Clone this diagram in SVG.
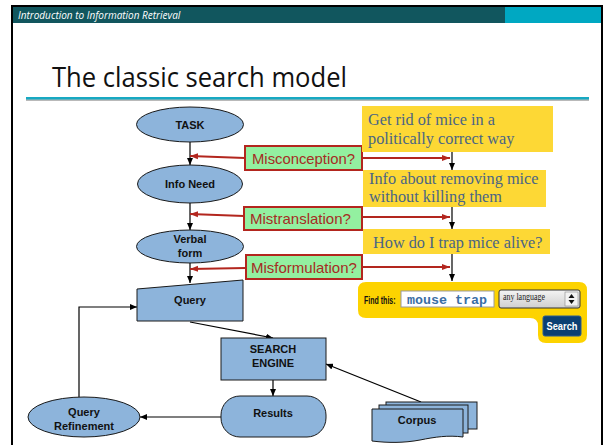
<svg xmlns="http://www.w3.org/2000/svg" width="604" height="445" viewBox="0 0 604 445">
<defs>
<marker id="ab" markerWidth="8" markerHeight="6" refX="7" refY="3" orient="auto" markerUnits="userSpaceOnUse"><path d="M0,0 L7,3 L0,6 Z" fill="#000"/></marker>
<marker id="ar" markerWidth="9" markerHeight="7" refX="8" refY="3.5" orient="auto" markerUnits="userSpaceOnUse"><path d="M0,0.5 L8,3.5 L0,6.5 Z" fill="#b3261e"/></marker>
<linearGradient id="sel" x1="0" y1="0" x2="0" y2="1"><stop offset="0" stop-color="#f4f4f4"/><stop offset="1" stop-color="#cfcfcf"/></linearGradient>
</defs>
<style>
.node{fill:#8db4db;stroke:#1a1a1a;stroke-width:1}
.nt{font-family:"Liberation Sans",Arial,sans-serif;font-weight:bold;font-size:11px;fill:#111;text-anchor:middle}
.err{fill:#93f0a0;stroke:#b3261e;stroke-width:2}
.et{font-family:"Liberation Sans",Arial,sans-serif;font-size:15px;fill:#a62c24}
.yel{fill:#fdd835}
.yt{font-family:"Liberation Serif","Times New Roman",serif;font-size:16.3px;fill:#4a6585}
.conn{stroke:#000;stroke-width:1.2;fill:none}
.red{stroke:#b3261e;stroke-width:2;fill:none}
</style>
<rect x="0" y="0" width="604" height="445" fill="#fff"/>
<rect x="12" y="6" width="590" height="450" fill="#fff" stroke="#000" stroke-width="2"/>
<rect x="13" y="7" width="492" height="16" fill="#11565e"/>
<rect x="505" y="7" width="96" height="16" fill="#00a8c2"/>
<text x="18" y="19" font-family="'Open Sans','Liberation Sans',sans-serif" font-style="italic" font-size="10" fill="#fff">Introduction to Information Retrieval</text>
<text x="52" y="87" font-family="'Open Sans','Liberation Sans',sans-serif" font-size="28" fill="#111" textLength="295" lengthAdjust="spacingAndGlyphs">The classic search model</text>
<rect x="26" y="99" width="563" height="2" fill="#b9b9b9"/>
<rect x="26" y="97" width="563" height="2.5" fill="#17a9c2"/>

<g id="connectors">
<line class="conn" x1="190" y1="142" x2="190" y2="165" marker-end="url(#ab)"/>
<line class="conn" x1="190" y1="203" x2="190" y2="230" marker-end="url(#ab)"/>
<line class="conn" x1="190" y1="263" x2="190" y2="283" marker-end="url(#ab)"/>
<line class="conn" x1="452" y1="152" x2="452" y2="170" marker-end="url(#ab)"/>
<line class="conn" x1="452" y1="207" x2="452" y2="229" marker-end="url(#ab)"/>
<line class="conn" x1="452" y1="254" x2="452" y2="281" marker-end="url(#ab)"/>
<line class="red" x1="245" y1="158" x2="190" y2="156" marker-end="url(#ar)"/>
<line class="red" x1="362" y1="158" x2="450" y2="158" marker-end="url(#ar)"/>
<line class="red" x1="244" y1="216" x2="190" y2="214" marker-end="url(#ar)"/>
<line class="red" x1="362" y1="217" x2="450" y2="217" marker-end="url(#ar)"/>
<line class="red" x1="246" y1="268" x2="190" y2="269" marker-end="url(#ar)"/>
<line class="red" x1="362" y1="267" x2="450" y2="267" marker-end="url(#ar)"/>
<line class="conn" x1="190" y1="322" x2="273" y2="338" marker-end="url(#ab)"/>
<line class="conn" x1="273" y1="380" x2="273" y2="396" marker-end="url(#ab)"/>
<line class="conn" x1="221" y1="417" x2="140" y2="417" marker-end="url(#ab)"/>
<polyline class="conn" points="79,397 79,307 137,307" marker-end="url(#ab)"/>
<line class="conn" x1="421" y1="402" x2="326" y2="364" marker-end="url(#ab)"/>
</g>

<g id="task"><ellipse class="node" cx="190" cy="124.5" rx="53.5" ry="17.5"/><text class="nt" x="190" y="128.5">TASK</text></g>
<g id="infoneed"><ellipse class="node" cx="190" cy="184" rx="52.5" ry="19"/><text class="nt" x="190" y="188">Info Need</text></g>
<g id="verbal"><ellipse class="node" cx="190" cy="246.5" rx="53.5" ry="16.5"/><text class="nt" x="190" y="243">Verbal</text><text class="nt" x="190" y="256.5">form</text></g>
<g id="query"><polygon class="node" points="137,289 243,280 243,321 137,321"/><text class="nt" x="190" y="304">Query</text></g>
<g id="engine"><rect class="node" x="221" y="338" width="105" height="42"/><text class="nt" x="273" y="353">SEARCH</text><text class="nt" x="273" y="367">ENGINE</text></g>
<g id="results"><rect class="node" x="221" y="396" width="105" height="41" rx="19" ry="19"/><text class="nt" x="273" y="417">Results</text></g>
<g id="refinement"><ellipse class="node" cx="84" cy="417" rx="56" ry="20"/><text class="nt" x="84" y="416">Query</text><text class="nt" x="84" y="430">Refinement</text></g>
<g id="corpus">
<rect class="node" x="386" y="402" width="91" height="27"/>
<rect class="node" x="379" y="405" width="89" height="28"/>
<path class="node" d="M372,409 H463 V437 C448,435 435,437 420,440 C404,443 388,443 372,441 Z"/>
<text class="nt" x="417" y="424">Corpus</text>
</g>

<g id="misconception"><rect class="err" x="245" y="146" width="117" height="24"/><text class="et" x="252" y="164" textLength="103" lengthAdjust="spacingAndGlyphs">Misconception?</text></g>
<g id="mistranslation"><rect class="err" x="244" y="207" width="118" height="23"/><text class="et" x="250" y="224">Mistranslation?</text></g>
<g id="misformulation"><rect class="err" x="246" y="255" width="116" height="24"/><text class="et" x="251" y="273">Misformulation?</text></g>

<g id="goal1"><rect class="yel" x="362" y="106" width="191" height="46"/><text class="yt" x="368" y="125">Get rid of mice in a</text><text class="yt" x="368" y="144">politically correct way</text></g>
<g id="goal2"><rect class="yel" x="363" y="170" width="183" height="37"/><text class="yt" x="369" y="184">Info about removing mice</text><text class="yt" x="369" y="202">without killing them</text></g>
<g id="goal3"><rect class="yel" x="363" y="229" width="187" height="25"/><text class="yt" x="373" y="248">How do I trap mice alive?</text></g>

<g id="searchbox">
<path d="M366,282 H579 Q587,282 587,290 V335 Q587,343 579,343 H546 Q538,343 538,335 V326 Q538,318 530,318 H366 Q358,318 358,310 V290 Q358,282 366,282 Z" fill="#fdd300"/>
<text transform="translate(364,304) scale(0.64,1)" x="0" y="0" font-family="'Liberation Sans',Arial,sans-serif" font-weight="bold" font-size="11" fill="#111">Find this:</text>
<rect x="401" y="291" width="93" height="16" fill="#fff" stroke="#9a9a9a" stroke-width="1"/>
<text x="407" y="304" font-family="'Liberation Mono','Courier New',monospace" font-weight="bold" font-size="12" fill="#3a6ea5" textLength="80" lengthAdjust="spacingAndGlyphs">mouse trap</text>
<rect x="499" y="290" width="81" height="18" rx="2" fill="url(#sel)" stroke="#333" stroke-width="1"/>
<text x="503" y="300" font-family="'Liberation Serif','Times New Roman',serif" font-size="10" fill="#222" textLength="42" lengthAdjust="spacingAndGlyphs">any language</text>
<rect x="565" y="292" width="13" height="14" fill="#f2f2f2" stroke="#888" stroke-width="0.6"/>
<path d="M568.5,298 L571.5,294 L574.5,298 Z M568.5,300 L574.5,300 L571.5,304 Z" fill="#111"/>
<rect x="543" y="316" width="38" height="20" rx="2" fill="#0b3f72" stroke="#2c5d8f" stroke-width="1"/>
<text x="562" y="330" font-family="'Liberation Sans',Arial,sans-serif" font-weight="bold" font-size="11" fill="#fff" text-anchor="middle" textLength="31" lengthAdjust="spacingAndGlyphs">Search</text>
</g>
</svg>
